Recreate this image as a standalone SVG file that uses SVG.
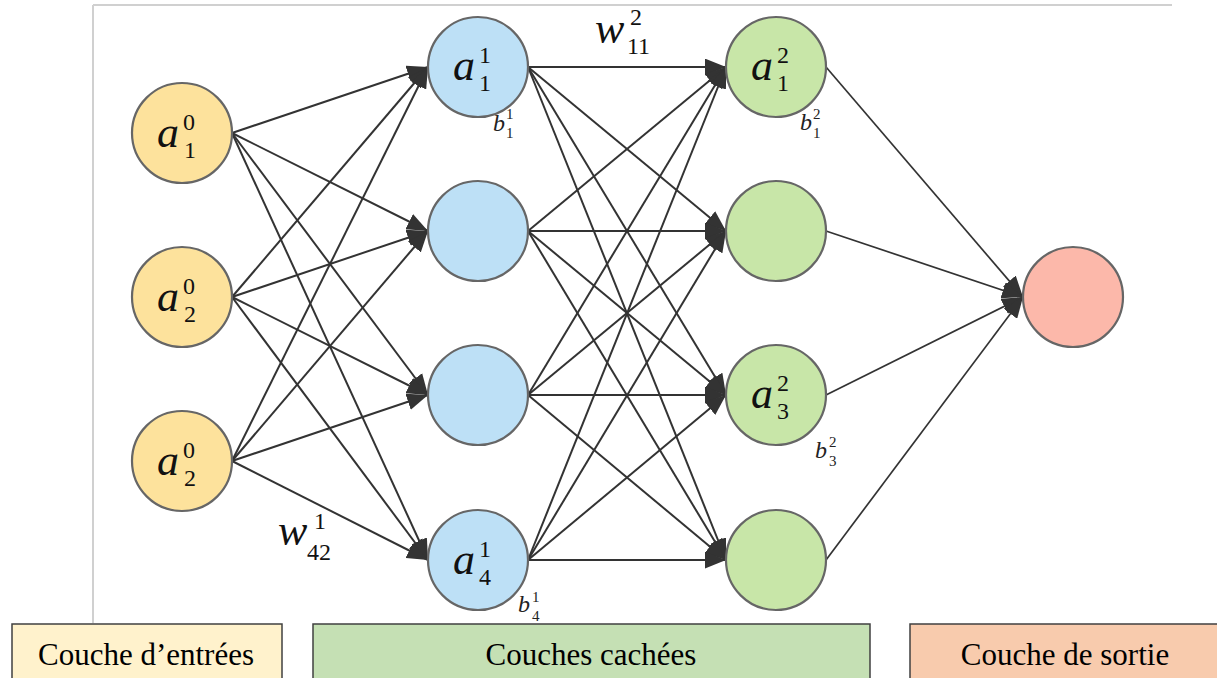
<svg xmlns="http://www.w3.org/2000/svg" width="1217" height="678" viewBox="0 0 1217 678">
<style>
.frame{stroke:#d0d0d0;stroke-width:2;fill:none}
.edge{stroke:#333;stroke-width:2;fill:none}
.edge2{stroke:#333;stroke-width:1.7;fill:none}
.node{stroke:#666;stroke-width:2.2}
.in{fill:#fde29c}
.h1{fill:#bde0f6}
.h2{fill:#c8e6a8}
.out{fill:#fcb8aa}
.m{font-family:"Liberation Serif",serif;fill:#111}
.v{font-style:italic;font-size:44px}
.d{font-style:normal;font-size:24px}
.b{font-family:"Liberation Serif",serif;fill:#222}
.bv{font-style:italic;font-size:24px}
.bd{font-style:normal;font-size:15px}
.box{stroke:#404040;stroke-width:1.5}
.lbl{font-family:"Liberation Serif",serif;font-size:31px;fill:#000;text-anchor:middle}
</style>
<defs>
<marker id="arr" viewBox="0 0 20 16" refX="20" refY="8" markerWidth="21" markerHeight="17" markerUnits="userSpaceOnUse" orient="auto">
<path d="M0,0 L20,8 L0,16 z" fill="#333"/>
</marker>
</defs>
<rect width="1217" height="678" fill="#fff"/>
<g id="frame">
<line class="frame" x1="93" y1="5" x2="1172" y2="5"/>
<line class="frame" x1="93" y1="5" x2="93" y2="623"/>
</g>
<g id="connectors">
<line class="edge" marker-end="url(#arr)" x1="232" y1="133" x2="428" y2="67"/>
<line class="edge" marker-end="url(#arr)" x1="232" y1="133" x2="428" y2="231"/>
<line class="edge" marker-end="url(#arr)" x1="232" y1="133" x2="428" y2="395"/>
<line class="edge" marker-end="url(#arr)" x1="232" y1="133" x2="428" y2="560"/>
<line class="edge" marker-end="url(#arr)" x1="232" y1="297" x2="428" y2="67"/>
<line class="edge" marker-end="url(#arr)" x1="232" y1="297" x2="428" y2="231"/>
<line class="edge" marker-end="url(#arr)" x1="232" y1="297" x2="428" y2="395"/>
<line class="edge" marker-end="url(#arr)" x1="232" y1="297" x2="428" y2="560"/>
<line class="edge" marker-end="url(#arr)" x1="232" y1="461" x2="428" y2="67"/>
<line class="edge" marker-end="url(#arr)" x1="232" y1="461" x2="428" y2="231"/>
<line class="edge" marker-end="url(#arr)" x1="232" y1="461" x2="428" y2="395"/>
<line class="edge" marker-end="url(#arr)" x1="232" y1="461" x2="428" y2="560"/>
<line class="edge" marker-end="url(#arr)" x1="528" y1="67" x2="726" y2="67"/>
<line class="edge" marker-end="url(#arr)" x1="528" y1="67" x2="726" y2="231"/>
<line class="edge" marker-end="url(#arr)" x1="528" y1="67" x2="726" y2="395"/>
<line class="edge" marker-end="url(#arr)" x1="528" y1="67" x2="726" y2="560"/>
<line class="edge" marker-end="url(#arr)" x1="528" y1="231" x2="726" y2="67"/>
<line class="edge" marker-end="url(#arr)" x1="528" y1="231" x2="726" y2="231"/>
<line class="edge" marker-end="url(#arr)" x1="528" y1="231" x2="726" y2="395"/>
<line class="edge" marker-end="url(#arr)" x1="528" y1="231" x2="726" y2="560"/>
<line class="edge" marker-end="url(#arr)" x1="528" y1="395" x2="726" y2="67"/>
<line class="edge" marker-end="url(#arr)" x1="528" y1="395" x2="726" y2="231"/>
<line class="edge" marker-end="url(#arr)" x1="528" y1="395" x2="726" y2="395"/>
<line class="edge" marker-end="url(#arr)" x1="528" y1="395" x2="726" y2="560"/>
<line class="edge" marker-end="url(#arr)" x1="528" y1="560" x2="726" y2="67"/>
<line class="edge" marker-end="url(#arr)" x1="528" y1="560" x2="726" y2="231"/>
<line class="edge" marker-end="url(#arr)" x1="528" y1="560" x2="726" y2="395"/>
<line class="edge" marker-end="url(#arr)" x1="528" y1="560" x2="726" y2="560"/>
<line class="edge2" marker-end="url(#arr)" x1="826" y1="67" x2="1023" y2="297"/>
<line class="edge2" marker-end="url(#arr)" x1="826" y1="231" x2="1023" y2="297"/>
<line class="edge2" marker-end="url(#arr)" x1="826" y1="395" x2="1023" y2="297"/>
<line class="edge2" marker-end="url(#arr)" x1="826" y1="560" x2="1023" y2="297"/>
</g>
<g id="in1"><circle class="node in" cx="182" cy="133" r="50"/>
<text class="m"><tspan class="v" x="157" y="147">a</tspan><tspan class="d" x="183" y="130">0</tspan><tspan class="d" x="184" y="158">1</tspan></text></g>
<g id="in2"><circle class="node in" cx="182" cy="297" r="50"/>
<text class="m"><tspan class="v" x="157" y="311">a</tspan><tspan class="d" x="183" y="294">0</tspan><tspan class="d" x="184" y="322">2</tspan></text></g>
<g id="in3"><circle class="node in" cx="182" cy="461" r="50"/>
<text class="m"><tspan class="v" x="157" y="475">a</tspan><tspan class="d" x="183" y="458">0</tspan><tspan class="d" x="184" y="486">2</tspan></text></g>
<g id="h11"><circle class="node h1" cx="478" cy="67" r="50"/>
<text class="m"><tspan class="v" x="453" y="80">a</tspan><tspan class="d" x="479" y="63">1</tspan><tspan class="d" x="479" y="91">1</tspan></text>
<text class="b"><tspan class="bv" x="493" y="131">b</tspan><tspan class="bd" x="506" y="119">1</tspan><tspan class="bd" x="506" y="138">1</tspan></text></g>
<g id="h12"><circle class="node h1" cx="478" cy="231" r="50"/></g>
<g id="h13"><circle class="node h1" cx="478" cy="395" r="50"/></g>
<g id="h14"><circle class="node h1" cx="478" cy="560" r="50"/>
<text class="m"><tspan class="v" x="453" y="574">a</tspan><tspan class="d" x="479" y="557">1</tspan><tspan class="d" x="479" y="585">4</tspan></text>
<text class="b"><tspan class="bv" x="518" y="612">b</tspan><tspan class="bd" x="532" y="602">1</tspan><tspan class="bd" x="532" y="621">4</tspan></text></g>
<g id="h21"><circle class="node h2" cx="776" cy="67" r="50"/>
<text class="m"><tspan class="v" x="751" y="80">a</tspan><tspan class="d" x="777" y="63">2</tspan><tspan class="d" x="777" y="91">1</tspan></text>
<text class="b"><tspan class="bv" x="800" y="130">b</tspan><tspan class="bd" x="813" y="119">2</tspan><tspan class="bd" x="813" y="138">1</tspan></text></g>
<g id="h22"><circle class="node h2" cx="776" cy="231" r="50"/></g>
<g id="h23"><circle class="node h2" cx="776" cy="395" r="50"/>
<text class="m"><tspan class="v" x="751" y="408">a</tspan><tspan class="d" x="777" y="391">2</tspan><tspan class="d" x="777" y="419">3</tspan></text>
<text class="b"><tspan class="bv" x="815" y="458">b</tspan><tspan class="bd" x="829" y="447">2</tspan><tspan class="bd" x="829" y="466">3</tspan></text></g>
<g id="h24"><circle class="node h2" cx="776" cy="560" r="50"/></g>
<g id="out"><circle class="node out" cx="1073" cy="297" r="50"/></g>
<g id="w2">
<text class="m"><tspan class="v" x="595" y="43">w</tspan><tspan class="d" x="630" y="25">2</tspan><tspan class="d" x="627" y="54">11</tspan></text>
</g>
<g id="w1">
<text class="m"><tspan class="v" x="278" y="545">w</tspan><tspan class="d" x="314" y="529">1</tspan><tspan class="d" x="307" y="560">42</tspan></text>
</g>
<g id="legend-in"><rect class="box" x="12" y="624" width="270" height="70" fill="#fff2cc"/>
<text class="lbl" x="146" y="665">Couche d’entrées</text></g>
<g id="legend-hidden"><rect class="box" x="313" y="624" width="557" height="70" fill="#c5e0b4"/>
<text class="lbl" x="591" y="665">Couches cachées</text></g>
<g id="legend-out"><rect class="box" x="910" y="624" width="320" height="70" fill="#f8cbad"/>
<text class="lbl" x="1065" y="665">Couche de sortie</text></g>
</svg>
